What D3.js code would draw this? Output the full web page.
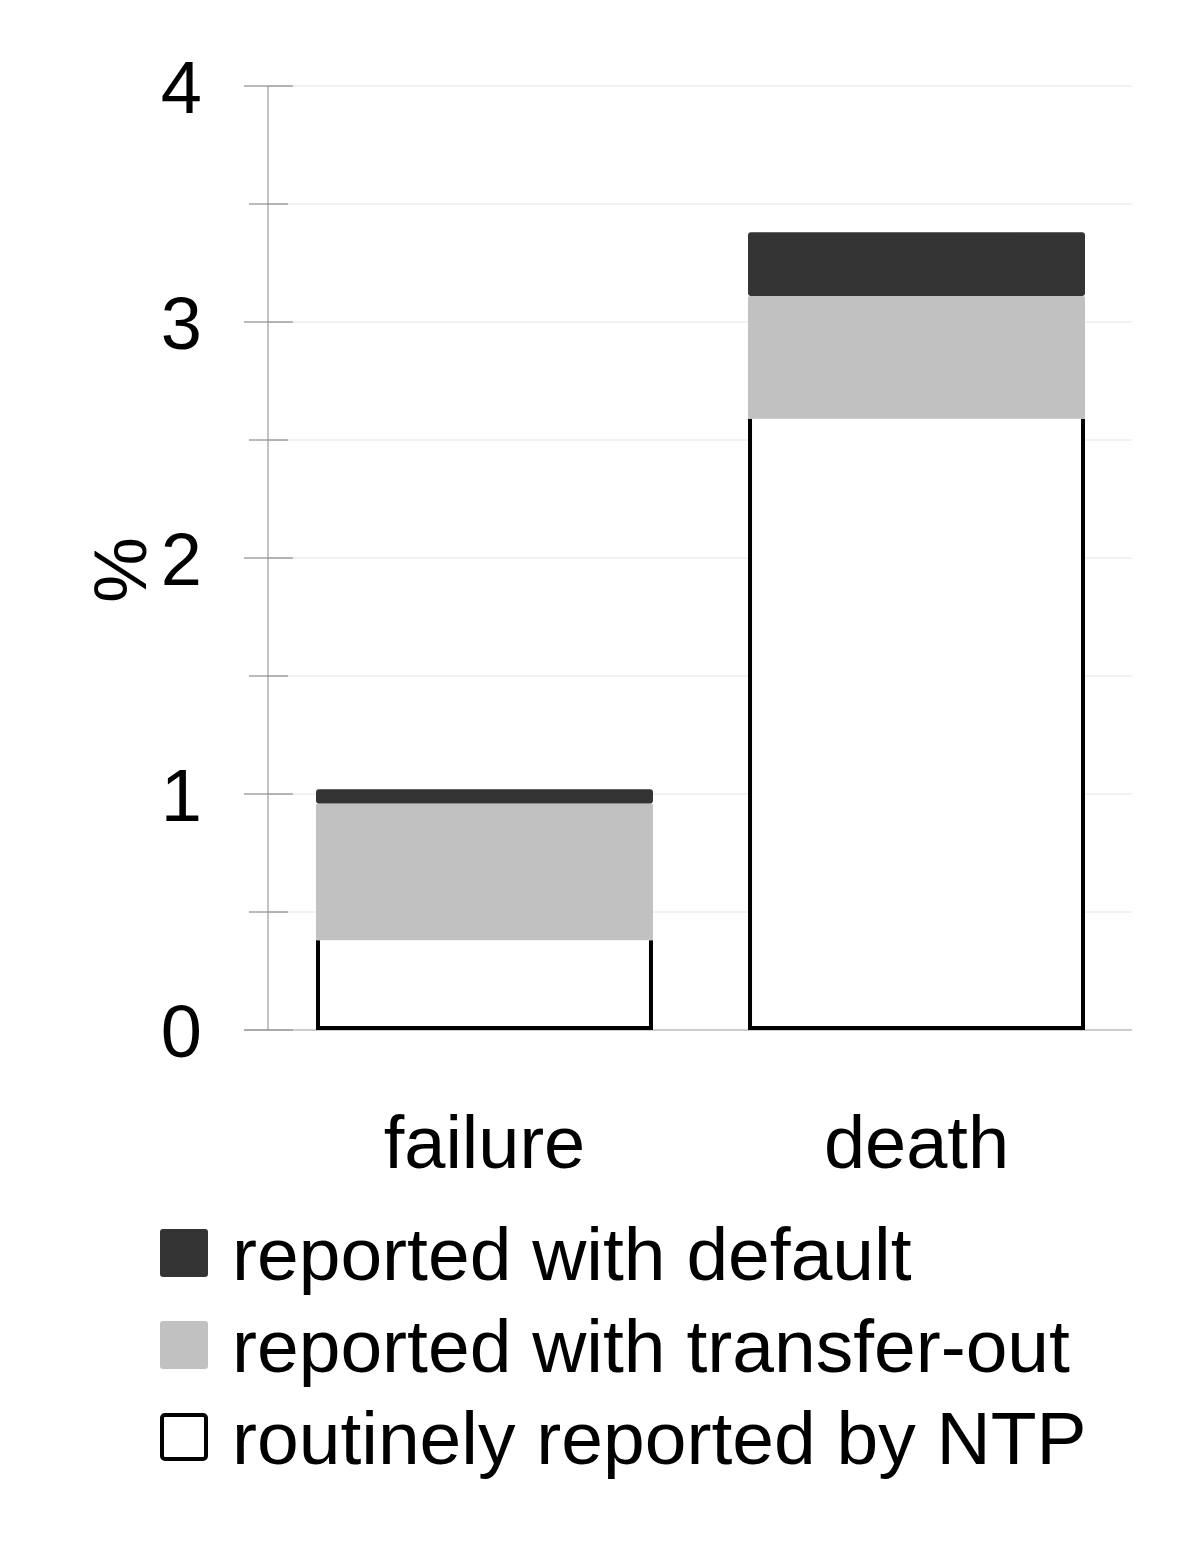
<!DOCTYPE html>
<html>
<head>
<meta charset="utf-8">
<script src="https://cdn.jsdelivr.net/npm/d3@7"></script>
<style>
  body { margin: 0; background: #fff; }
  text { font-family: "Liberation Sans", Arial, sans-serif; fill: #000; }
</style>
</head>
<body>
<div id="chart"></div>
<script>
var categories = ["failure", "death"];
var routine = [0.38, 2.59];
var transferOut = [0.58, 0.52];
var defaultVals = [0.06, 0.27];
var yTicks = [0, 1, 2, 3, 4];
var legendLabels = ["reported with default", "reported with transfer-out", "routinely reported by NTP"];

var svg = d3.select("#chart")
            .append("svg")
            .attr("width", 1200).attr("height", 1554);

var left = 268, right = 1132;
var y = d3.scaleLinear().domain([0, 4]).range([1030, 86]);
var x = d3.scaleBand().domain(categories).range([316, 1085]).paddingInner(0.22).paddingOuter(0);

// gridlines every 0.5
var grid = d3.range(0.5, 4.01, 0.5);
svg.selectAll(".grid")
   .data(grid)
   .enter()
   .append("line")
   .attr("x1", left).attr("x2", right)
   .attr("y1", function(d) { return y(d); })
   .attr("y2", function(d) { return y(d); })
   .style("stroke", "#e4e4e4").style("stroke-width", 1);

// ticks
svg.selectAll(".tick")
   .data(d3.range(0, 4.01, 0.5))
   .enter()
   .append("line")
   .attr("x1", function(d) { return d % 1 === 0 ? 244 : 249; })
   .attr("x2", function(d) { return d % 1 === 0 ? 293 : 288; })
   .attr("y1", function(d) { return y(d); })
   .attr("y2", function(d) { return y(d); })
   .style("stroke", "#777").style("stroke-width", 1);

svg.append("line")
   .attr("x1", left).attr("x2", left)
   .attr("y1", y(4)).attr("y2", y(0))
   .style("stroke", "#888").style("stroke-width", 1);
svg.append("line")
   .attr("x1", 244).attr("x2", right)
   .attr("y1", y(0)).attr("y2", y(0))
   .style("stroke", "#999").style("stroke-width", 1);

svg.selectAll(".ylab")
   .data(yTicks)
   .enter()
   .append("text")
   .attr("x", 202)
   .attr("y", function(d) { return y(d) + 27; })
   .attr("text-anchor", "end")
   .style("font-size", "74px")
   .text(function(d) { return d; });

svg.append("text")
   .attr("transform", "translate(146,570) rotate(-90)")
   .attr("text-anchor", "middle")
   .style("font-size", "74px")
   .text("%");

// bars
var bw = x.bandwidth();
svg.selectAll(".routine")
   .data(categories)
   .enter()
   .append("rect")
   .attr("x", function(d) { return x(d); })
   .attr("width", bw)
   .attr("y", function(d, i) { return y(routine[i]); })
   .attr("height", function(d, i) { return y(0) - y(routine[i]); })
   .attr("fill", "#fff");

svg.selectAll(".routineEdge")
   .data(categories)
   .enter()
   .append("path")
   .attr("d", function(d, i) {
     var x0 = x(d) + 2, x1 = x(d) + bw - 2, t = y(routine[i]), b = y(0) - 2;
     return "M" + x0 + "," + t + "V" + b + "H" + x1 + "V" + t;
   })
   .attr("fill", "none").style("stroke", "#000").style("stroke-width", 4);

svg.selectAll(".transfer")
   .data(categories)
   .enter()
   .append("rect")
   .attr("x", function(d) { return x(d); })
   .attr("width", bw)
   .attr("y", function(d, i) { return y(routine[i] + transferOut[i]); })
   .attr("height", function(d, i) { return y(routine[i]) - y(routine[i] + transferOut[i]); })
   .attr("rx", 2)
   .attr("fill", "#c1c1c1");

svg.selectAll(".default")
   .data(categories)
   .enter()
   .append("rect")
   .attr("x", function(d) { return x(d); })
   .attr("width", bw)
   .attr("y", function(d, i) { return y(routine[i] + transferOut[i] + defaultVals[i]); })
   .attr("height", function(d, i) { return y(routine[i] + transferOut[i]) - y(routine[i] + transferOut[i] + defaultVals[i]); })
   .attr("rx", 3)
   .attr("fill", "#333");

svg.selectAll(".xlab")
   .data(categories)
   .enter()
   .append("text")
   .attr("x", function(d) { return x(d) + bw / 2; })
   .attr("y", 1168)
   .attr("text-anchor", "middle")
   .style("font-size", "74px")
   .text(function(d) { return d; });

// legend
var legendFill = ["#333", "#c1c1c1", "#fff"];
var lg = svg.selectAll(".legend")
   .data(legendLabels)
   .enter()
   .append("g")
   .attr("transform", function(d, i) { return "translate(0," + (1229 + i * 92) + ")"; });
lg.append("rect")
  .attr("x", function(d, i) { return i === 2 ? 162 : 160; })
  .attr("y", function(d, i) { return i === 2 ? 2 : 0; })
  .attr("width", function(d, i) { return i === 2 ? 44 : 48; })
  .attr("height", function(d, i) { return i === 2 ? 44 : 48; })
  .attr("rx", 3)
  .attr("fill", function(d, i) { return legendFill[i]; })
  .style("stroke", function(d, i) { return i === 2 ? "#000" : "none"; })
  .style("stroke-width", 4);
lg.append("text")
  .attr("x", 232)
  .attr("y", 51)
  .style("font-size", "75px")
  .text(function(d) { return d; });
</script>
</body>
</html>
